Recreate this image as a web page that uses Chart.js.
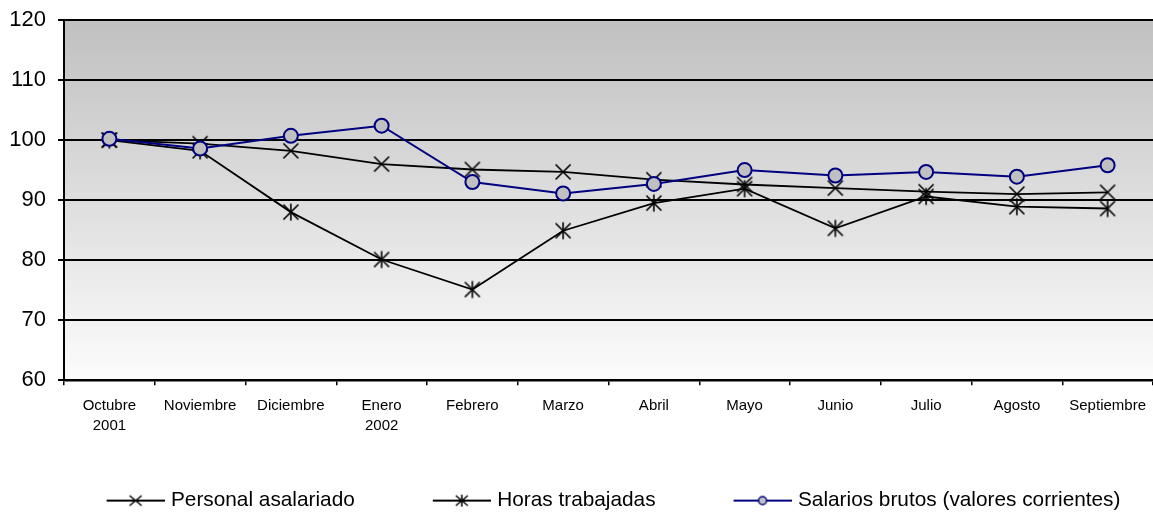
<!DOCTYPE html>
<html><head><meta charset="utf-8">
<script src="https://cdn.jsdelivr.net/npm/chart.js@4.4.1/dist/chart.umd.min.js"></script>
<style>html,body{margin:0;padding:0;background:#fff;overflow:hidden}#wrap{width:1153px;height:513px;position:relative}</style>
</head><body><div id="wrap"><canvas id="c" width="1153" height="513"></canvas></div>
<script>
// ---- data ----
const categories = [['Octubre','2001'],'Noviembre','Diciembre',['Enero','2002'],'Febrero','Marzo','Abril','Mayo','Junio','Julio','Agosto','Septiembre'];
const seriesNames = ['Personal asalariado','Horas trabajadas','Salarios brutos (valores corrientes)'];
const personalAsalariado = [100, 99.4, 98.2, 96.0, 95.1, 94.7, 93.4, 92.6, 92.0, 91.4, 91.0, 91.3];
const horasTrabajadas    = [100, 98.2, 88.0, 80.1, 75.1, 84.9, 89.5, 91.9, 85.3, 90.6, 88.9, 88.6];
const salariosBrutos     = [100.2, 98.6, 100.7, 102.4, 93.0, 91.1, 92.7, 95.0, 94.1, 94.7, 93.9, 95.8];
const yMin = 60, yMax = 120, yStep = 10;

const FONT = "'Liberation Sans', Arial, sans-serif";
const NAVY = '#000080';

function mk(w, h, draw) { const c = document.createElement('canvas'); c.width = w; c.height = h; draw(c.getContext('2d'), w, h); return c; }
function drawX(g, cx, cy, rx, ry, lw) { g.strokeStyle = '#000'; g.lineWidth = lw; g.beginPath(); g.moveTo(cx-rx, cy-ry); g.lineTo(cx+rx, cy+ry); g.moveTo(cx+rx, cy-ry); g.lineTo(cx-rx, cy+ry); g.stroke(); }
function drawAst(g, cx, cy, rx, ry, lw) { drawX(g, cx, cy, rx, ry, lw); g.beginPath(); g.moveTo(cx, cy-ry-1); g.lineTo(cx, cy+ry+1); g.stroke(); }
function drawCirc(g, cx, cy, r, lw) { g.fillStyle = '#c0c0c0'; g.strokeStyle = NAVY; g.lineWidth = lw; g.beginPath(); g.arc(cx, cy, r, 0, Math.PI*2); g.fill(); g.stroke(); }

const markX = mk(18, 18, (g) => drawX(g, 9, 9, 7.5, 7.5, 1.6));
const markAst = mk(18, 20, (g) => drawAst(g, 9, 10, 7.5, 7.5, 1.6));

const LW = 130, LH = 20;
function legendIcon(kind) {
  return mk(LW, LH, (g) => {
    g.strokeStyle = kind === 2 ? NAVY : '#000'; g.lineWidth = 2;
    g.beginPath(); g.moveTo(LW-58, LH/2); g.lineTo(LW, LH/2); g.stroke();
    const cx = LW-29, cy = LH/2;
    if (kind === 0) drawX(g, cx, cy, 6, 5, 1.5);
    else if (kind === 1) drawAst(g, cx, cy, 6, 5, 1.5);
    else drawCirc(g, cx, cy, 4, 1.5);
  });
}
const legendIcons = [legendIcon(0), legendIcon(1), legendIcon(2)];

const bgPlugin = {
  id: 'bg',
  beforeDraw(chart) {
    const {ctx, chartArea: a} = chart;
    const gr = ctx.createLinearGradient(0, a.top, 0, a.bottom);
    gr.addColorStop(0, '#c0c0c0');
    gr.addColorStop(1, '#fcfcfc');
    ctx.save(); ctx.fillStyle = gr; ctx.fillRect(a.left, a.top, a.right - a.left, a.bottom - a.top); ctx.restore();
  }
};

new Chart(document.getElementById('c'), {
  type: 'line',
  data: {
    labels: categories,
    datasets: [
      { label: seriesNames[0], data: personalAsalariado, borderColor: '#000', borderWidth: 1.8, pointStyle: markX, pointRadius: 8, tension: 0, order: 2 },
      { label: seriesNames[1], data: horasTrabajadas, borderColor: '#000', borderWidth: 1.8, pointStyle: markAst, pointRadius: 8, tension: 0, order: 1 },
      { label: seriesNames[2], data: salariosBrutos, borderColor: NAVY, borderWidth: 2, pointStyle: 'circle', pointRadius: 7, pointBorderWidth: 2, pointBackgroundColor: '#c0c0c0', pointBorderColor: NAVY, tension: 0, order: 0 }
    ]
  },
  options: {
    responsive: false, animation: false, devicePixelRatio: 1,
    layout: { autoPadding: false, padding: { top: 20, bottom: -8, left: 6, right: 0 } },
    plugins: {
      tooltip: { enabled: false },
      legend: {
        position: 'bottom',
        labels: {
          usePointStyle: true, pointStyleWidth: 122, padding: 10, color: '#000',
          font: { family: FONT, size: 20.8 },
          generateLabels(chart) {
            const items = Chart.defaults.plugins.legend.labels.generateLabels(chart);
            items.forEach(it => { it.pointStyle = legendIcons[it.datasetIndex]; });
            return items.sort((a, b) => a.datasetIndex - b.datasetIndex);
          }
        }
      }
    },
    scales: {
      x: {
        offset: true,
        grid: { offset: true, drawOnChartArea: false, drawTicks: true, tickLength: 5, color: '#000', lineWidth: 1.5 },
        border: { color: '#000', width: 2.5 },
        ticks: { color: '#000', font: { family: FONT, size: 15, lineHeight: 1.33 }, padding: 11, maxRotation: 0, autoSkip: false },
        afterFit(s) { s.height = 100; s.paddingRight = 0; s.paddingLeft = 0; }
      },
      y: {
        min: yMin, max: yMax,
        grid: { color: '#000', lineWidth: 2, tickLength: 6 },
        border: { color: '#000', width: 2 },
        ticks: { stepSize: yStep, color: '#000', font: { family: FONT, size: 22 }, padding: 12 },
        afterFit(s) { s.width = 58; s.paddingTop = 0; s.paddingBottom = 0; }
      }
    }
  },
  plugins: [bgPlugin]
});
</script></body></html>
